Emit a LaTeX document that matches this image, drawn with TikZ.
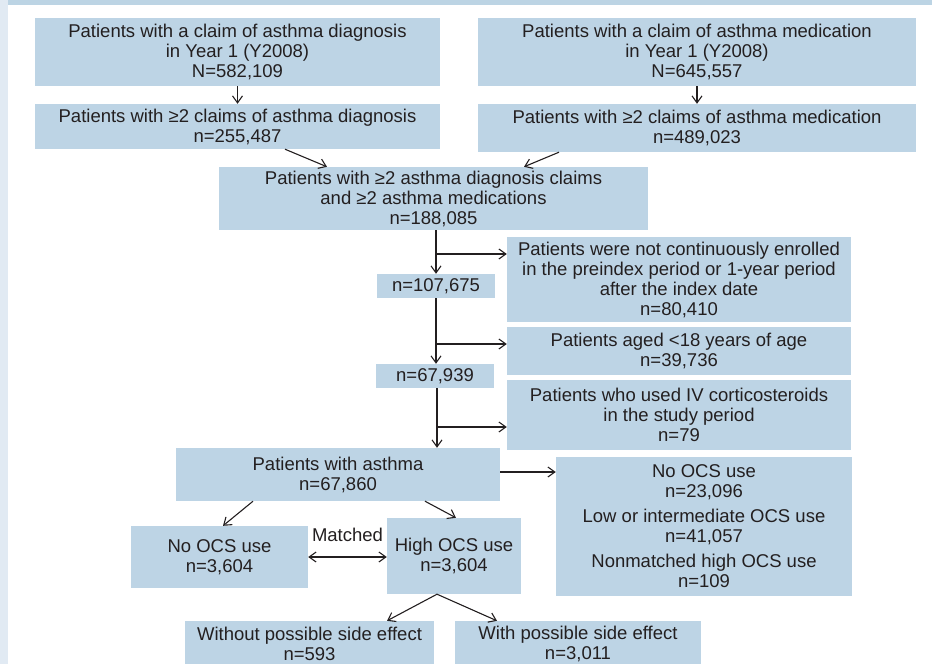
\documentclass[tikz,border=0pt]{standalone}
\usepackage{fontspec}
\setmainfont{Liberation Sans}
\usepackage{tikz}
\usetikzlibrary{arrows.meta,calc,positioning}
\usepackage{color}
\definecolor{cajaazul}{HTML}{BDD4E5}
\definecolor{bordeizq}{HTML}{E1EAF3}
\definecolor{franjasup}{HTML}{BCD4E4}
\definecolor{texto}{HTML}{231F20}
\tikzset{
  caja/.style={fill=cajaazul, text=texto, inner sep=0pt, align=center,
    font=\fontsize{18.5}{20}\selectfont},
  flecha/.style={draw=texto, line width=1.1pt, ->},
}

\begin{document}
\begin{tikzpicture}[x=1pt, y=-1pt, >={Straight Barb[length=7pt,width=10pt]}]
  \useasboundingbox (0,0) rectangle (932,664);

  % Marco
  \fill[bordeizq] (0,0) rectangle (8,664);
  \fill[franjasup] (8,0) rectangle (932,5);

  % Poblaciones iniciales
  \node[caja, minimum width=405pt, minimum height=68pt] (diag) at (237.5,52)
    {Patients with a claim of asthma diagnosis\\in Year 1 (Y2008)\\N=582,109};
  \node[caja, minimum width=438pt, minimum height=68pt] (medic) at (697,52)
    {Patients with a claim of asthma medication\\in Year 1 (Y2008)\\N=645,557};
  \node[caja, minimum width=405pt, minimum height=45pt] (diagdos) at (237.5,126.5)
    {Patients with ≥2 claims of asthma diagnosis\\n=255,487};
  \node[caja, minimum width=438pt, minimum height=48pt] (medicdos) at (697,128)
    {Patients with ≥2 claims of asthma medication\\n=489,023};
  \node[caja, minimum width=429pt, minimum height=63pt] (ambos) at (433.5,198.5)
    {Patients with ≥2 asthma diagnosis claims\\and ≥2 asthma medications\\n=188,085};

  % Exclusiones
  \node[caja, minimum width=118pt, minimum height=24pt] (nuno) at (436,286) {n=107,675};
  \node[caja, minimum width=344pt, minimum height=85pt] (enrol) at (679,279.5)
    {Patients were not continuously enrolled\\in the preindex period or 1-year period\\after the index date\\n=80,410};
  \node[caja, minimum width=344pt, minimum height=48pt] (edad) at (679,351)
    {Patients aged <18 years of age\\n=39,736};
  \node[caja, minimum width=118pt, minimum height=24pt] (ndos) at (435,376) {n=67,939};
  \node[caja, minimum width=344pt, minimum height=70pt] (iv) at (679,415)
    {Patients who used IV corticosteroids\\in the study period\\n=79};

  % Cohorte de asma
  \node[caja, minimum width=324pt, minimum height=53pt] (asma) at (338,474.5)
    {Patients with asthma\\n=67,860};
  \node[caja, minimum width=296pt, minimum height=139pt] (resto) at (704,526.5)
    {No OCS use\\n=23,096\\[5pt]Low or intermediate OCS use\\n=41,057\\[5pt]Nonmatched high OCS use\\n=109};
  \node[caja, minimum width=177pt, minimum height=62pt] (noocs) at (219.5,557)
    {No OCS use\\n=3,604};
  \node[caja, minimum width=134pt, minimum height=76pt] (altoocs) at (454,556)
    {High OCS use\\n=3,604};
  \node[caja, minimum width=249pt, minimum height=46pt] (sinef) at (309.5,644)
    {Without possible side effect\\n=593};
  \node[caja, minimum width=246pt, minimum height=46pt] (conef) at (578,644)
    {With possible side effect\\n=3,011};

  % Flechas superiores
  \draw[flecha] (diag.south) -- (diagdos.north);
  \draw[flecha] (medic.south) -- (medic.south |- medicdos.north);
  \draw[flecha] ([xshift=47.5pt]diagdos.south) -- ([xshift=-106.5pt]ambos.north);
  \draw[flecha] ([xshift=-138pt]medicdos.south) -- ([xshift=90.5pt]ambos.north);

  % Tronco central y ramas
  \coordinate (rama1) at (436,254);
  \coordinate (rama2) at (436,344);
  \coordinate (rama3) at (437,427);
  \draw[flecha] (nuno.north |- ambos.south) -- (nuno.north);
  \draw[flecha] (rama1) -- (rama1 -| enrol.west);
  \draw[flecha] (nuno.south) -- (nuno.south |- ndos.north);
  \draw[flecha] (rama2) -- (rama2 -| edad.west);
  \draw[flecha] (rama3 |- ndos.south) -- (rama3 |- asma.north);
  \draw[flecha] (rama3) -- (rama3 -| iv.west);

  % Division por uso de OCS
  \draw[flecha] ([yshift=2.5pt]asma.east) -- ([yshift=2.5pt]asma.east -| resto.west);
  \draw[flecha] ([xshift=-85pt]asma.south) -- ([xshift=3.5pt]noocs.north);
  \draw[flecha] ([xshift=87pt]asma.south) -- ([xshift=2pt]altoocs.north);
  \draw[flecha, <->] (noocs.east) -- (noocs.east -| altoocs.west)
    node[midway, above=15pt, inner sep=0pt, text=texto, font=\fontsize{18.5}{20}\selectfont] (emparejado) {Matched};
  \draw[flecha] ([xshift=-17pt]altoocs.south) -- ([xshift=77.5pt]sinef.north);
  \draw[flecha] ([xshift=-17pt]altoocs.south) -- ([xshift=-81pt]conef.north);

\end{tikzpicture}
\end{document}
